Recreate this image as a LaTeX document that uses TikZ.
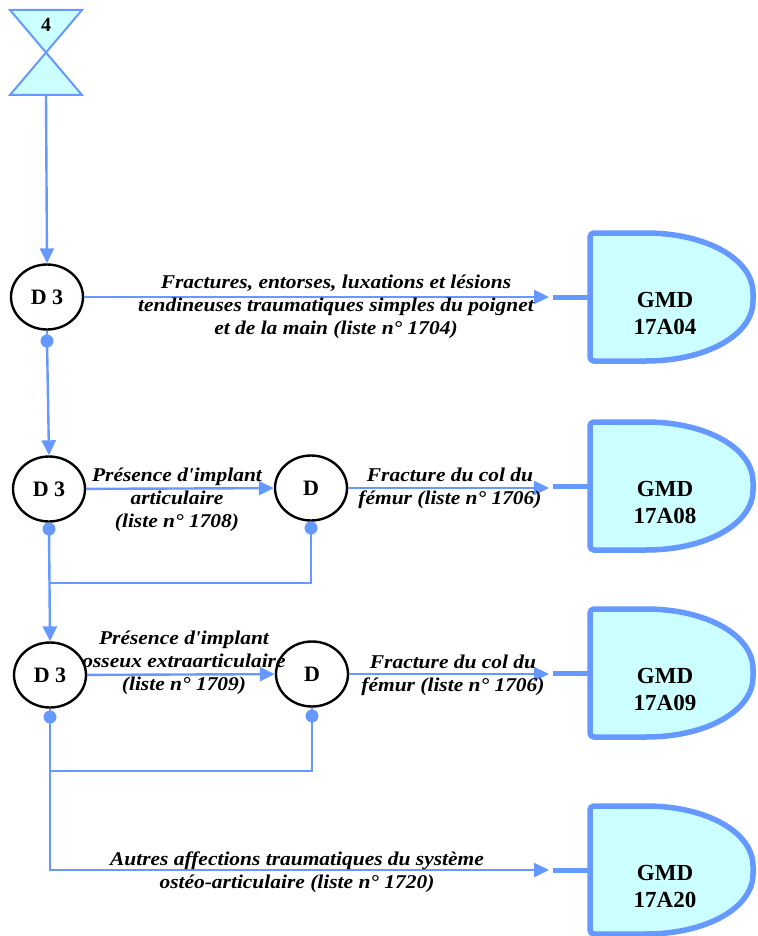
\documentclass[tikz,border=0pt]{standalone}
\usepackage{fontspec}
\setmainfont{Liberation Serif}[Ligatures=TeXOff]
\usetikzlibrary{arrows.meta,shapes.geometric}
\definecolor{ln}{RGB}{102,153,255}
\definecolor{fillc}{RGB}{204,255,255}
\begin{document}
\begin{tikzpicture}[x=1pt,y=-1pt,
 conn/.style={draw=ln, line width=2.4pt},
 arr/.style={conn,-{Triangle[length=15pt,width=14pt]}},
 dec/.style={ellipse, draw=black, line width=2.4pt, fill=white, minimum width=72pt, minimum height=65pt, inner sep=0pt, font=\bfseries\fontsize{22}{24}\selectfont},
 dot/.style={circle, fill=ln, minimum size=13pt, inner sep=0pt},
 lbl/.style={align=center, font=\bfseries\itshape\fontsize{19.5}{23}\selectfont\addfontfeature{FakeStretch=1.1}, inner sep=0pt},
 gmdtxt/.style={align=center, font=\bfseries\fontsize{23}{27}\selectfont, inner sep=0pt},
 stub/.style={draw=ln, line width=5pt},
 gmdbox/.style={draw=ln, fill=fillc, line width=5.5pt, rounded corners=4pt}
]
\useasboundingbox (0,0) rectangle (757,936);

% hourglass
\draw[draw=ln, fill=fillc, line width=2pt, line join=miter] (10,10) -- (82,10) -- (10,95) -- (82,95) -- cycle;
\node[font=\bfseries\fontsize{20}{22}\selectfont, inner sep=0pt] (h4) at (46,25) {4};
\coordinate (hb) at (46,95);

% GMD boxes
\foreach \yc/\nm/\code in {297/1/17A04, 486/2/17A08, 673/3/17A09, 870/4/17A20}{
  \draw[gmdbox] (590,\yc-64) -- (642,\yc-64)
     .. controls (706,\yc-64) and (753,\yc-38) .. (753,\yc)
     .. controls (753,\yc+38) and (706,\yc+64) .. (642,\yc+64)
     -- (590,\yc+64) -- cycle;
  \node[gmdtxt] (g\nm) at (665,\yc+16) {GMD\\\code};
  \coordinate (s\nm) at (553,\yc);
  \coordinate (b\nm) at (590,\yc);
  \draw[stub] (s\nm) -- (b\nm);
}
\coordinate (e1) at (549,297);
\coordinate (e2) at (549,488);
\coordinate (e3) at (549,674);
\coordinate (e4) at (549,870);

% decision nodes
\node[dec] (d1) at (47,297) {D 3};
\node[dot] (p1) at (47,341) {};
\node[dec] (d2) at (49,489) {D 3};
\node[dot] (p2) at (49,529) {};
\node[dec] (dd2) at (311,488) {D};
\node[dot] (q2) at (311,528) {};
\node[dec] (d3) at (50,675) {D 3};
\node[dot] (p3) at (50,717) {};
\node[dec] (dd3) at (312,674) {D};
\node[dot] (q3) at (312,716) {};
\coordinate (j2) at (49,583);
\coordinate (j3) at (50,771);

% connectors
\draw[arr] (hb) -- (d1.north);
\draw[conn] (d1.south) -- (p1.center);
\draw[arr] (p1.center) -- (d2.north);
\draw[arr] (d1) -- (e1);

\draw[conn] (d2.south) -- (p2.center);
\draw[arr] (d2) -- (dd2);
\draw[arr] (dd2) -- (e2);
\draw[conn] (dd2.south) -- (q2.center);
\draw[conn] (q2.center) |- (j2);
\draw[arr] (p2.center) -- (d3.north);

\draw[conn] (d3.south) -- (p3.center);
\draw[arr] (d3) -- (dd3);
\draw[arr] (dd3) -- (e3);
\draw[conn] (dd3.south) -- (q3.center);
\draw[conn] (q3.center) |- (j3);
\draw[arr] (p3.center) |- (e4);

% labels
\node[lbl] (l1) at (336,307) {Fractures, entorses, luxations et lésions\\tendineuses traumatiques simples du poignet\\et de la main (liste n° 1704)};
\node[lbl] (l2a) at (177,500) {Présence d'implant\\articulaire\\(liste n° 1708)};
\node[lbl] (l2b) at (450,488) {Fracture du col du\\fémur (liste n° 1706)};
\node[lbl] (l3a) at (184,663) {Présence d'implant\\osseux extraarticulaire\\(liste n° 1709)};
\node[lbl] (l3b) at (453,675) {Fracture du col du\\fémur (liste n° 1706)};
\node[lbl] (l4) at (297,872) {Autres affections traumatiques du système\\ostéo-articulaire (liste n° 1720)};
\end{tikzpicture}
\end{document}
